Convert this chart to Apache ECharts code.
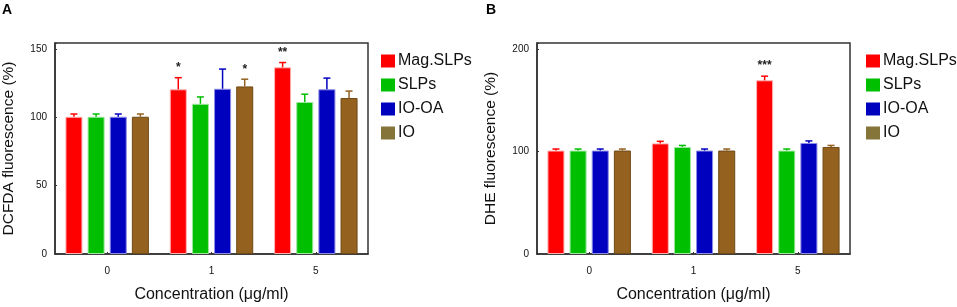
<!DOCTYPE html>
<html>
<head>
<meta charset="utf-8">
<script src="https://cdn.jsdelivr.net/npm/echarts@6/dist/echarts.min.js"></script>
<style>
  html, body { margin: 0; padding: 0; background: #fff; }
  #chart { width: 957px; height: 307px; }
</style>
</head>
<body>
<div id="chart"></div>
<script>
// categories (concentration, ug/ml)
var categories = ['0', '1', '5'];
var seriesNames = ['Mag.SLPs', 'SLPs', 'IO-OA', 'IO'];

// panel A - DCFDA fluorescence (%)
var dcfdaMag = [100.5, 120.6, 136.7];
var dcfdaSlp = [100.5, 110.0, 111.3];
var dcfdaIoOa = [100.5, 121.0, 120.6];
var dcfdaIo = [100.5, 122.7, 114.2];
var dcfdaMagErr = [2, 8.5, 3.5];
var dcfdaSlpErr = [2, 5, 5.7];
var dcfdaIoOaErr = [2, 14.4, 8.2];
var dcfdaIoErr = [2, 5.3, 5.1];
var dcfdaMagSig = ['', '*', '**'];
var dcfdaSlpSig = ['', '', ''];
var dcfdaIoOaSig = ['', '', ''];
var dcfdaIoSig = ['', '*', ''];

// panel B - DHE fluorescence (%)
var dheMag = [101, 108, 169.6];
var dheSlp = [101, 104.5, 101];
var dheIoOa = [101, 101, 108.4];
var dheIo = [101, 101, 104.5];
var dheMagErr = [1.5, 2, 4];
var dheSlpErr = [1.5, 1.5, 1.5];
var dheIoOaErr = [1.5, 1.5, 2];
var dheIoErr = [1.5, 1.5, 1.5];
var dheMagSig = ['', '', '***'];
var dheSlpSig = ['', '', ''];
var dheIoOaSig = ['', '', ''];
var dheIoSig = ['', '', ''];

var yTicksA = [0, 50, 100, 150];
var yTicksB = [0, 100, 200];

var colors = ['#ff0000', '#00bf00', '#0000bf', '#94611f'];
var borders = ['#ffb3b3', '#9fe89f', '#8c8ce6', '#6f4a14'];
var FONT = 'Arial, "Liberation Sans", Helvetica, sans-serif';

var chart = echarts.init(document.getElementById('chart'));

function errorRenderer(k) {
  return function (params, api) {
    var cat = api.value(0), v = api.value(1), e = api.value(2);
    var sig = api.value(3);
    var band = api.size([1, 0])[0];
    var bw = band * 0.8 / 4.9;
    var cx = api.coord([cat, 0])[0] - 0.4 * band + bw * (0.5 + k * 1.3);
    var yTop = api.coord([cat, v + e])[1];
    var yBase = api.coord([cat, v])[1];
    var c = colors[k];
    var kids = [
      { type: 'line', shape: { x1: cx, y1: yBase, x2: cx, y2: yTop }, style: { stroke: c, lineWidth: 1.5 } },
      { type: 'line', shape: { x1: cx - 3.5, y1: yTop, x2: cx + 3.5, y2: yTop }, style: { stroke: c, lineWidth: 1.5 } }
    ];
    if (sig) {
      kids.push({ type: 'text', style: { text: sig, x: cx, y: yTop - 4, align: 'center', verticalAlign: 'bottom', fill: '#222', font: 'bold 12px ' + FONT } });
    }
    return { type: 'group', children: kids };
  };
}

function buildPanel(gi, vals, errs, sigs) {
  var out = [];
  vals.forEach(function (arr, k) {
    out.push({
      name: seriesNames[k], type: 'bar', xAxisIndex: gi, yAxisIndex: gi,
      data: arr, barGap: '30%', barCategoryGap: '20%',
      itemStyle: { color: colors[k], borderColor: borders[k], borderWidth: 1 },
      animation: false
    });
  });
  vals.forEach(function (arr, k) {
    out.push({
      type: 'custom', xAxisIndex: gi, yAxisIndex: gi, z: 5,
      renderItem: errorRenderer(k),
      data: arr.map(function (v, i) { return [i, v, errs[k][i], sigs[k][i]]; }),
      encode: { x: 0, y: [1, 2] },
      animation: false, silent: true
    });
  });
  return out;
}

var series = []
  .concat(buildPanel(0, [dcfdaMag, dcfdaSlp, dcfdaIoOa, dcfdaIo],
    [dcfdaMagErr, dcfdaSlpErr, dcfdaIoOaErr, dcfdaIoErr],
    [dcfdaMagSig, dcfdaSlpSig, dcfdaIoOaSig, dcfdaIoSig]))
  .concat(buildPanel(1, [dheMag, dheSlp, dheIoOa, dheIo],
    [dheMagErr, dheSlpErr, dheIoOaErr, dheIoErr],
    [dheMagSig, dheSlpSig, dheIoOaSig, dheIoSig]));

var legendData = seriesNames.map(function (n, i) {
  return i === 3 ? { name: n, itemStyle: { color: '#857539', borderWidth: 0 } } : { name: n, itemStyle: { borderWidth: 0 } };
});

function legendAt(left) {
  return {
    data: legendData, left: left, top: 48, orient: 'vertical',
    icon: 'rect', itemWidth: 14, itemHeight: 13, itemGap: 8,
    selectedMode: false,
    textStyle: { fontFamily: FONT, fontSize: 16, color: '#111', padding: [0, 0, 0, -2] }
  };
}

function xAxisFor(gi) {
  return {
    type: 'category', gridIndex: gi, data: categories,
    name: 'Concentration (μg/ml)', nameLocation: 'middle', nameGap: 33,
    nameTextStyle: { fontFamily: FONT, fontSize: 16, color: '#111' },
    axisLine: { lineStyle: { color: '#333', width: 1.5 } },
    axisTick: { show: true, inside: true, length: 2, alignWithLabel: true, lineStyle: { color: '#333' } },
    axisLabel: { fontFamily: FONT, fontSize: 10, color: '#111', margin: 12 },
    splitLine: { show: false }
  };
}

function yAxisFor(gi, ticks, name) {
  var step = ticks[1] - ticks[0];
  var top = ticks[ticks.length - 1];
  return {
    type: 'value', gridIndex: gi, min: 0, max: top * 1.03, interval: step,
    name: name, nameLocation: 'middle', nameGap: 38,
    nameTextStyle: { fontFamily: FONT, fontSize: 15.5, color: '#111' },
    axisLine: { show: true, lineStyle: { color: '#333', width: 1.5 } },
    axisTick: { show: true, inside: true, length: 2, lineStyle: { color: '#333' } },
    axisLabel: {
      fontFamily: FONT, fontSize: 10, color: '#111', margin: 8,
      formatter: function (v) { return ticks.indexOf(v) >= 0 ? String(v) : ''; }
    },
    splitLine: { show: false }
  };
}

chart.setOption({
  backgroundColor: '#fff',
  animation: false,
  grid: [
    { left: 55, top: 43, width: 313, height: 211, outerBoundsMode: 'none', show: true, borderColor: '#333', borderWidth: 1.5, backgroundColor: 'transparent' },
    { left: 537, top: 43, width: 313, height: 211, outerBoundsMode: 'none', show: true, borderColor: '#333', borderWidth: 1.5, backgroundColor: 'transparent' }
  ],
  legend: [legendAt(376), legendAt(861)],
  xAxis: [xAxisFor(0), xAxisFor(1)],
  yAxis: [yAxisFor(0, yTicksA, 'DCFDA fluorescence (%)'), yAxisFor(1, yTicksB, 'DHE fluorescence (%)')],
  graphic: [
    { type: 'text', left: 2, top: 3, style: { text: 'A', font: 'bold 14px ' + FONT, fill: '#000' } },
    { type: 'text', left: 486, top: 3, style: { text: 'B', font: 'bold 14px ' + FONT, fill: '#000' } }
  ],
  series: series
});
</script>
</body>
</html>
